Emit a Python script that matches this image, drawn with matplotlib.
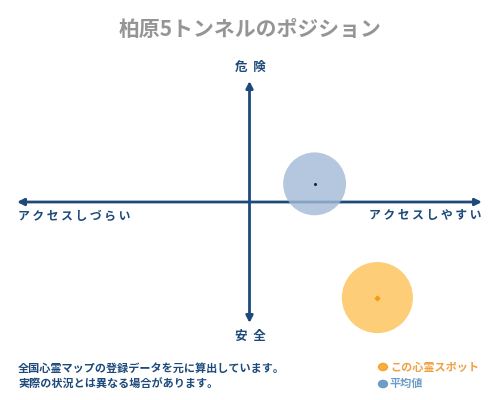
import matplotlib
matplotlib.use("Agg")
import matplotlib.pyplot as plt

plt.rcParams['font.family'] = ['Noto Sans CJK JP', 'DejaVu Sans']

title = "柏原5トンネルのポジション"
x_labels = ["アクセスしづらい", "アクセスしやすい"]
y_labels = ["安  全", "危  険"]
series_names = ["この心霊スポット", "平均値"]
spot_xy = [5.5, -7.9]
avg_xy = [2.8, 1.5]
notes = ["全国心霊マップの登録データを元に算出しています。",
         "実際の状況とは異なる場合があります。"]

navy = "#1d4a7a"
orange_fill = "#fdc55f"
orange_dot = "#f39c12"
blue_fill = "#a3b9d6"
blue_legend = "#6f9cc6"

fig = plt.figure(figsize=(5, 4), dpi=100)
ax = fig.add_axes([17/500, 77/400, 465/500, 242/400])
ax.set_xlim(-10, 10)
ax.set_ylim(-10, 10)
ax.axis("off")

arrow_kw = dict(arrowstyle="-|>,head_length=0.4,head_width=0.2", color=navy, lw=2,
                shrinkA=0, shrinkB=0)
for tip in [(10, 0), (-10, 0), (0, 10), (0, -10)]:
    ax.annotate("", xy=tip, xytext=(0, 0), arrowprops=arrow_kw, annotation_clip=False)

ax.scatter([avg_xy[0]], [avg_xy[1]], s=2050, color=blue_fill, alpha=0.8,
           edgecolors="none", zorder=3, clip_on=False)
ax.scatter([avg_xy[0]], [avg_xy[1]], s=1.5, color="#1a2a3a", zorder=4, clip_on=False)
ax.scatter([spot_xy[0]], [spot_xy[1]], s=2620, color=orange_fill, alpha=0.85,
           edgecolors="none", zorder=3, clip_on=False)
ax.scatter([spot_xy[0]], [spot_xy[1]], s=5, color=orange_dot, marker="D",
           zorder=4, clip_on=False)

fig.text(0.5, 1 - 30/400, title, ha="center", va="center", fontsize=15,
         color="#959595", fontweight="bold")
fig.text(0.5, 1 - 67/400, y_labels[1], ha="center", va="center", fontsize=9,
         color=navy, fontweight="bold")
fig.text(0.5, 1 - 336/400, y_labels[0], ha="center", va="center", fontsize=9,
         color=navy, fontweight="bold")
fig.text(18/500, 1 - 216/400, " ".join(x_labels[0]), ha="left", va="center",
         fontsize=8.5, color=navy, fontweight="bold")
fig.text(481/500, 1 - 216/400, " ".join(x_labels[1]), ha="right", va="center",
         fontsize=8.5, color=navy, fontweight="bold")

fig.text(18/500, 1 - 368/400, notes[0], ha="left", va="center", fontsize=8,
         color=navy, fontweight="bold")
fig.text(18/500, 1 - 384/400, notes[1], ha="left", va="center", fontsize=8,
         color=navy, fontweight="bold")

fig.patches.append(matplotlib.patches.Circle((383/500, 1 - 367/400), 4.5/500,
                   transform=fig.transFigure, color=orange_dot, alpha=0.8))
fig.patches.append(matplotlib.patches.Circle((383/500, 1 - 384/400), 4.5/500,
                   transform=fig.transFigure, color=blue_legend))
fig.text(390/500, 1 - 367/400, series_names[0], ha="left", va="center", fontsize=8,
         color="#f0a040", fontweight="bold")
fig.text(390/500, 1 - 384/400, series_names[1], ha="left", va="center", fontsize=8,
         color=blue_legend, fontweight="bold")

fig.savefig("out.png", dpi=100, facecolor="white")
